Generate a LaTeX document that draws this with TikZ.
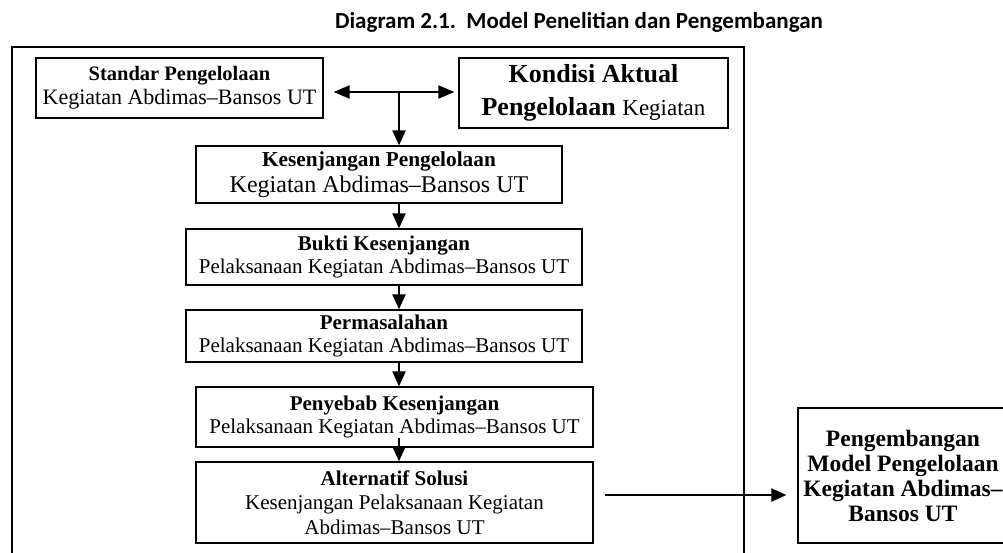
\documentclass[tikz,border=0pt]{standalone}
\usepackage{fontspec}
\setmainfont{Liberation Serif}
\newfontfamily\titlefont{Carlito}
\usetikzlibrary{arrows.meta}

\begin{document}
\begin{tikzpicture}[x=1pt,y=-1pt,
  box/.style={draw, line width=1.2pt, align=center, inner sep=1pt,
    font=\fontsize{21}{23.5}\selectfont},
  arr/.style={line width=2pt, -{Triangle[length=15pt,width=13pt]}},
  dblarr/.style={line width=2pt,
    {Triangle[length=16pt,width=13pt]}-{Triangle[length=16pt,width=13pt]}}]
  \useasboundingbox (0,0) rectangle (1003,552);
  \node[anchor=base] (title) at (579,28)
    {\titlefont\fontsize{23}{26}\selectfont\bfseries Diagram 2.1.~~Model Penelitian dan Pengembangan};
  % outer frame, open at the bottom
  \draw[line width=2pt] (12,560) -- (12,47) -- (744,47) -- (744,560);

  \node[box, minimum width=287pt, minimum height=60pt] (standar) at (179.5,88)
    {{\fontsize{20.5}{23}\selectfont\bfseries Standar Pengelolaan}\\
     {\fontsize{22}{23}\selectfont Kegiatan Abdimas–Bansos UT}};
  \node[box, minimum width=269pt, minimum height=70pt,
    font=\fontsize{26}{33}\selectfont\bfseries] (kondisi) at (593.5,93)
    {Kondisi Aktual\\ Pengelolaan {\mdseries\fontsize{23}{33}\selectfont Kegiatan}};
  \node[box, minimum width=366pt, minimum height=57pt,
    font=\fontsize{24}{26}\selectfont] (kesenjangan) at (379,174.5)
    {{\fontsize{21.3}{26}\selectfont\bfseries Kesenjangan Pengelolaan}\\
     Kegiatan Abdimas–Bansos UT};
  \node[box, minimum width=396pt, minimum height=56pt] (bukti) at (384,257)
    {\textbf{Bukti Kesenjangan}\\ Pelaksanaan Kegiatan Abdimas–Bansos UT};
  \node[box, minimum width=396pt, minimum height=52pt] (masalah) at (384,336)
    {\textbf{Permasalahan}\\ Pelaksanaan Kegiatan Abdimas–Bansos UT};
  \node[box, minimum width=397pt, minimum height=60pt] (penyebab) at (394.5,417)
    {\textbf{Penyebab Kesenjangan}\\ Pelaksanaan Kegiatan Abdimas–Bansos UT};
  \node[box, minimum width=397pt, minimum height=81pt,
    font=\fontsize{21}{24.5}\selectfont] (alternatif) at (394.5,502.5)
    {\textbf{Alternatif Solusi}\\ Kesenjangan Pelaksanaan Kegiatan\\ Abdimas–Bansos UT};
  \node[box, minimum width=210pt, minimum height=135pt,
    font=\fontsize{23.5}{25}\selectfont\bfseries] (pengembangan) at (903,475.5)
    {Pengembangan\\ Model Pengelolaan\\ Kegiatan Abdimas–\\ Bansos UT};

  \coordinate (junc) at (399,92);
  \coordinate (hz) at (605,495);
  \draw[dblarr, shorten <=10pt, shorten >=4pt] (standar.east |- junc) -- (kondisi.west |- junc);
  \draw[arr] (junc) -- (kesenjangan.north -| junc);
  \draw[arr] (kesenjangan.south -| junc) -- (bukti.north -| junc);
  \draw[arr] (bukti.south -| junc) -- (masalah.north -| junc);
  \draw[arr] (masalah.south -| junc) -- (penyebab.north -| junc);
  \draw[arr] ([yshift=10pt]penyebab.south -| junc) -- (alternatif.north -| junc);
  \draw[arr, shorten >=11pt] (hz) -- (pengembangan.west |- hz);
\end{tikzpicture}
\end{document}
